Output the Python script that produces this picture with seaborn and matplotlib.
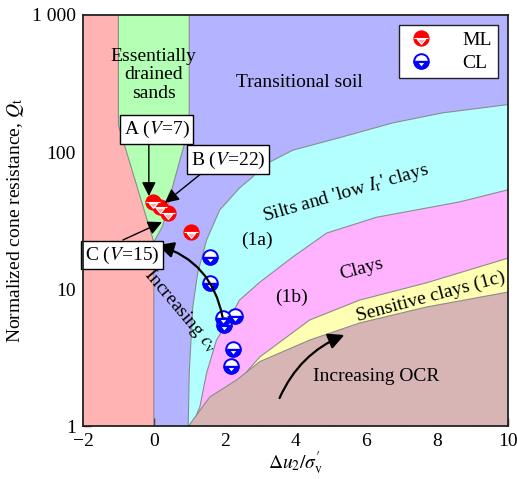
import numpy as np
import pandas as pd
import matplotlib
matplotlib.use("Agg")
import matplotlib.pyplot as plt
from matplotlib.path import Path
from matplotlib.lines import Line2D
from matplotlib.legend_handler import HandlerTuple
from matplotlib.patches import FancyArrowPatch
import seaborn as sns

# ---- Zone boundaries (Δu2/σ'v, Qt) ----
sand_left_x = [-1.0, -1.0, 0.0]
sand_left_q = [1000, 157, 22]
sand_right_x = [1.0, 1.0, 0.87, 0.54, 0.25, 0.0]
sand_right_q = [1000, 193, 116, 57, 28.8, 22]

silt_top_x = [0.97, 1.0, 1.1, 1.24, 1.49, 1.86, 2.42, 2.79, 3.0, 3.92, 5.33, 6.74, 8.15, 10.0]
silt_top_q = [1.0, 2.44, 7.4, 13.1, 22.8, 37.7, 54.6, 65.7, 77.7, 103, 129, 163, 193, 222]

clay_top_x = [1.2, 1.3, 1.49, 1.77, 2.06, 2.42, 2.99, 3.92, 4.88, 6.29, 8.63, 10.0]
clay_top_q = [1.2, 1.38, 2.44, 4.24, 5.65, 8.3, 11.2, 17.1, 25.6, 33.4, 43.2, 53]

sens_top_x = [2.6, 2.99, 4.40, 5.81, 7.70, 10.0]
sens_top_q = [2.45, 3.19, 5.94, 8.3, 11.1, 16.8]

ocr_top_x = [0.98, 1.58, 2.34, 2.99, 4.40, 5.81, 7.70, 10.0]
ocr_top_q = [1.0, 1.63, 2.17, 2.95, 4.24, 5.65, 7.39, 9.5]

# ---- Measured points ----
ml_x = [-0.02, 0.17, 0.40, 1.05]
ml_q = [43, 39.5, 36, 26]
cl_x = [1.58, 1.58, 2.28, 1.94, 1.97, 2.23, 2.17]
cl_q = [17.1, 11.1, 6.4, 6.15, 5.5, 3.66, 2.75]

xticks = [-2, 0, 2, 4, 6, 8, 10]
xtick_labels = ["\u22122", "0", "2", "4", "6", "8", "10"]
yticks = [1, 10, 100, 1000]
ytick_labels = ["1", "10", "100", "1 000"]

sns.set_theme(style="ticks")
plt.rcParams["font.family"] = ["Liberation Serif", "DejaVu Serif"]
plt.rcParams["mathtext.fontset"] = "stix"
for k in ["text.color", "axes.labelcolor", "xtick.color", "ytick.color"]:
    plt.rcParams[k] = "black"

fig = plt.figure(figsize=(5.17, 4.79), dpi=100)
ax = fig.add_axes([0.1605, 0.1106, 0.8221, 0.8581])
ax.set_xlim(-2, 10)
ax.set_yscale("log")
ax.set_ylim(1, 1000)

edge = "#8c8c8c"
c_red, c_green, c_blue = "#ffb3b3", "#b3ffb3", "#b3b3ff"
c_cyan, c_mag, c_yel, c_brown = "#b3ffff", "#ffb3ff", "#ffffb3", "#d8b5b5"

# background: transitional soil
ax.fill_between([-2, 10], 1, 1000, color=c_blue, lw=0, zorder=0)

# negative pore pressure zone
rx = [-2] + sand_left_x + [0.0, -2]
rq = [1000] + sand_left_q + [1, 1]
ax.fill(rx, rq, color=c_red, lw=0, zorder=1)

# drained sands
gx = sand_left_x + sand_right_x[::-1]
gq = sand_left_q + sand_right_q[::-1]
ax.fill(gx, gq, color=c_green, lw=0, zorder=1)

def zone(xs, qs, color):
    px = list(xs) + [10.0, xs[0]]
    pq = list(qs) + [1.0, 1.0]
    ax.fill(px, pq, color=color, lw=0, zorder=1)
    ax.plot(xs, qs, color=edge, lw=0.8, zorder=1.5)

zone(silt_top_x, silt_top_q, c_cyan)
zone(clay_top_x, clay_top_q, c_mag)
zone(sens_top_x, sens_top_q, c_yel)
zone(ocr_top_x, ocr_top_q, c_brown)
ax.plot(sand_left_x + [0.0], sand_left_q + [1], color=edge, lw=0.8, zorder=1.5)
ax.plot(sand_right_x, sand_right_q, color=edge, lw=0.8, zorder=1.5)

# ---- custom half-filled markers ----
arc = Path.arc(180, 360)
tri = np.array([[-0.58, -0.12], [0.58, -0.12], [0.0, -0.82], [-0.58, -0.12]])
verts = list(arc.vertices) + [arc.vertices[0]] + list(tri)
codes = ([Path.MOVETO] + [Path.CURVE4] * (len(arc.vertices) - 1) + [Path.CLOSEPOLY]
         + [Path.MOVETO, Path.LINETO, Path.LINETO, Path.CLOSEPOLY])
bottom_hole = Path(verts, codes)
tri_path = Path(tri, [Path.MOVETO, Path.LINETO, Path.LINETO, Path.CLOSEPOLY])
mid_line = Path([[-0.95, 0.0], [0.95, 0.0], [0.0, -1.0]], [Path.MOVETO, Path.LINETO, Path.MOVETO])

ms = 10.5
df_ml = pd.DataFrame({"x": ml_x, "q": ml_q})
df_cl = pd.DataFrame({"x": cl_x, "q": cl_q})

sns.scatterplot(data=df_ml, x="x", y="q", ax=ax, marker="o", s=ms ** 2,
                color="red", edgecolor="red", linewidth=1.2, zorder=5, legend=False)
ax.plot(ml_x, ml_q, ls="none", marker=tri_path, ms=ms * 0.82, mfc="#ffa8a8",
        mec="white", mew=0.8, zorder=6)
ax.plot(ml_x, ml_q, ls="none", marker=mid_line, ms=ms, mec="white", mew=0.8, zorder=6)

sns.scatterplot(data=df_cl, x="x", y="q", ax=ax, marker="o", s=ms ** 2,
                color="white", edgecolor="blue", linewidth=1.4, zorder=5, legend=False)
ax.plot(cl_x, cl_q, ls="none", marker=bottom_hole, ms=ms, mfc="blue",
        mec="blue", mew=1.0, zorder=6)

fs = 14
ax.set_xlabel(r"$\Delta u_2/\sigma^{\prime}_\mathrm{v}$", fontsize=fs, labelpad=0)
ax.set_ylabel(r"Normalized cone resistance, $Q_\mathrm{t}$", fontsize=fs, labelpad=4)

ax.set_xticks(xticks)
ax.set_xticklabels(xtick_labels)
ax.set_xticks([-1, 1, 3, 5, 7, 9], minor=True)
ax.set_yticks(yticks)
ax.set_yticklabels(ytick_labels)
ax.tick_params(which="both", direction="in", labelsize=fs, color="#222222", width=1.0)
ax.tick_params(which="major", length=6)
ax.tick_params(which="minor", length=3.5)
ax.tick_params(axis="x", which="major", pad=5)
ax.tick_params(axis="y", which="major", pad=5)
for s in ax.spines.values():
    s.set_linewidth(1.3)
    s.set_color("#222222")
    s.set_zorder(10)

ax.text(0.0, 365, "Essentially\ndrained\nsands", ha="center", va="center", fontsize=fs,
        linespacing=1.15, zorder=7)
ax.text(4.12, 324, "Transitional soil", ha="center", va="center", fontsize=fs, zorder=7)
ax.text(5.41, 50, r"Silts and 'low $I_\mathrm{r}$' clays", ha="center", va="center",
        fontsize=fs, rotation=16, zorder=7)
ax.text(2.9, 22.8, "(1a)", ha="center", va="center", fontsize=fs, zorder=7)
ax.text(5.86, 14.0, "Clays", ha="center", va="center", fontsize=fs, rotation=15, zorder=7)
ax.text(3.89, 8.74, "(1b)", ha="center", va="center", fontsize=fs, zorder=7)
ax.text(7.81, 8.74, "Sensitive clays (1c)", ha="center", va="center", fontsize=fs,
        rotation=15, zorder=7)
ax.text(6.29, 2.28, "Increasing OCR", ha="center", va="center", fontsize=fs, zorder=7)
ax.text(0.75, 6.9, r"Increasing $c_\mathrm{v}$", ha="center", va="center", fontsize=fs,
        rotation=-50, zorder=7)

box = dict(boxstyle="square,pad=0.2", fc="white", ec="black", lw=1.0)
ax.text(0.08, 145, r"A ($V$=7)", ha="center", va="center", fontsize=fs, bbox=box, zorder=8)
ax.text(2.09, 87.5, r"B ($V$=22)", ha="center", va="center", fontsize=fs, bbox=box, zorder=8)
ax.text(-0.90, 17.7, r"C ($V$=15)", ha="center", va="center", fontsize=fs, bbox=box, zorder=8)

def arrow(p0, p1, rad=0.0, lw=1.0, head=7):
    a = FancyArrowPatch(p0, p1, connectionstyle=f"arc3,rad={rad}",
                        arrowstyle=f"-|>,head_length={head/10:.2f},head_width={head/20:.2f}",
                        color="black", lw=lw, zorder=7, shrinkA=0, shrinkB=0,
                        mutation_scale=12)
    ax.add_patch(a)

arrow((-0.14, 116), (-0.14, 47.7))
arrow((1.35, 70), (0.31, 42.5))
arrow((-0.87, 22.8), (0.23, 30.8))
arrow((1.94, 6.25), (0.11, 20.9), rad=0.3, lw=1.6, head=8)
arrow((3.55, 1.60), (5.38, 4.62), rad=-0.2, lw=1.6, head=8)

# legend with composite markers
h_ml = (Line2D([], [], ls="none", marker="o", ms=ms, mfc="red", mec="red", mew=1.2),
        Line2D([], [], ls="none", marker=tri_path, ms=ms * 0.82, mfc="#ffa8a8", mec="white", mew=0.8),
        Line2D([], [], ls="none", marker=mid_line, ms=ms, mec="white", mew=0.8))
h_cl = (Line2D([], [], ls="none", marker="o", ms=ms, mfc="white", mec="blue", mew=1.4),
        Line2D([], [], ls="none", marker=bottom_hole, ms=ms, mfc="blue", mec="blue", mew=1.0))
leg = ax.legend([h_ml, h_cl], ["ML", "CL"],
                handler_map={tuple: HandlerTuple(ndivide=1, pad=0)},
                loc="upper right", fontsize=fs, frameon=True, fancybox=False,
                edgecolor="#222222", framealpha=1, handlelength=1.6, handletextpad=1.3,
                borderaxespad=0.5, borderpad=0.35, labelspacing=0.25)
leg.get_frame().set_linewidth(1.0)
leg.set_zorder(9)

fig.savefig("out.png", dpi=100)
